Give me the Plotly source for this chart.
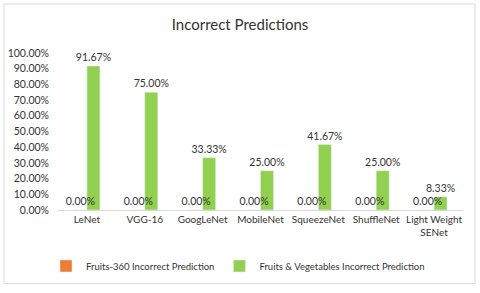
import plotly.graph_objects as go

categories = ["LeNet", "VGG-16", "GoogLeNet", "MobileNet", "SqueezeNet", "ShuffleNet", "Light Weight<br>SENet"]
fruits360 = [0.0, 0.0, 0.0, 0.0, 0.0, 0.0, 0.0]
fruits_veg = [0.9167, 0.75, 0.3333, 0.25, 0.4167, 0.25, 0.0833]
yticks = [i / 10 for i in range(11)]

FONT = "Lato, 'Open Sans', sans-serif"
BW = 13 / 58  # bar width in category units

fig = go.Figure()
# green drawn first so the orange zero labels sit on top of the green bars
fig.add_trace(go.Bar(
    x=categories, y=fruits_veg, name="Fruits & Vegetables Incorrect Prediction",
    marker_color="#92D050", width=BW, offset=0.0,
    text=[f"{v*100:.2f}%" for v in fruits_veg], textposition="outside",
    constraintext="none",
    textfont=dict(size=10.5, color="#333333", family=FONT), cliponaxis=False,
))
fig.add_trace(go.Bar(
    x=categories, y=fruits360, name="Fruits-360 Incorrect Prediction",
    marker_color="#ED7D31", width=BW, offset=-BW,
    text=[f"{v*100:.2f}%" for v in fruits360], textposition="outside",
    constraintext="none",
    textfont=dict(size=10.5, color="#333333", family=FONT), cliponaxis=False,
))

L, R, T, B = 58, 17, 53, 80
W, H = 480 - L - R, 293 - T - B

def px(x):
    return (x - L) / W

def py(y):
    return (293 - B - y) / H

fig.add_shape(type="rect", xref="paper", yref="paper",
              x0=px(4), x1=px(475), y0=py(288), y1=py(3),
              line=dict(color="#D9D9D9", width=1), layer="below")

fig.update_layout(
    width=480, height=293,
    margin=dict(l=L, r=R, t=T, b=B),
    paper_bgcolor="white", plot_bgcolor="white",
    barmode="overlay",
    font=dict(family=FONT, size=10, color="#333333"),
    title=dict(text="Incorrect Predictions", x=0.5, xref="container", xanchor="center",
               y=1 - 25 / 293, yanchor="middle", yref="container",
               font=dict(size=15, color="#333333", family=FONT)),
    showlegend=True,
    legend=dict(orientation="h", x=px(238), xanchor="center", y=py(270), yanchor="middle",
                font=dict(size=9.5, color="#333333", family=FONT), itemwidth=30,
                traceorder="reversed"),
    xaxis=dict(range=[-0.5, 6.5], showline=True, linecolor="#D9D9D9", linewidth=1, ticks="",
               automargin=False, tickfont=dict(size=10, color="#333333", family=FONT)),
    yaxis=dict(range=[0, 1], tickvals=yticks, tickformat=".2%", showgrid=False,
               zeroline=False, showline=False, ticks="", ticklabelstandoff=8, automargin=False,
               tickfont=dict(size=10.5, color="#333333", family=FONT)),
)

fig.write_html("out.html", config={"displayModeBar": False},
               post_script="document.body.style.margin='0';")
